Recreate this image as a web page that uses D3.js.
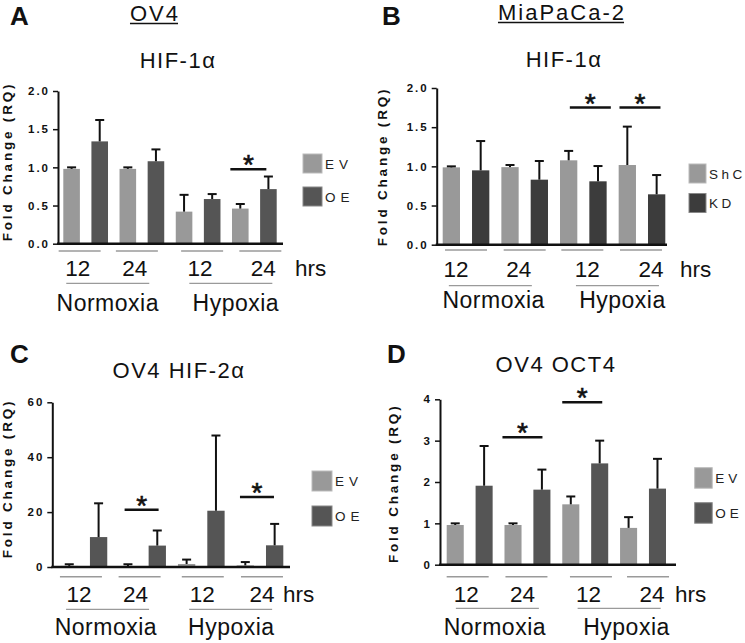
<!DOCTYPE html>

<head>
    <meta charset="utf-8">
    <script src="https://d3js.org/d3.v7.min.js"></script>
    <style>
        body {
            margin: 0;
            background: #fff;
        }

        svg {
            font-family: "Liberation Sans", Arial, sans-serif;
        }
    </style>
</head>

<body>
    <script>
        // shared categories
        const hours = ["12", "24", "12", "24"],
            conditions = ["Normoxia", "Hypoxia"];

        // A: OV4 HIF-1a
        const aEV = [0.98, 0.98, 0.42, 0.46],
            aEVErr = [0.02, 0.02, 0.22, 0.06],
            aOE = [1.34, 1.08, 0.585, 0.715],
            aOEErr = [0.28, 0.155, 0.065, 0.165],
            aSig = [{ group: 3, level: 0.975 }],
            aTicks = [0, 0.5, 1.0, 1.5, 2.0];

        // B: MiaPaCa-2 HIF-1a
        const bShC = [0.987, 0.99, 1.077, 1.017],
            bShCErr = [0.013, 0.027, 0.12, 0.49],
            bKD = [0.949, 0.83, 0.809, 0.643],
            bKDErr = [0.374, 0.238, 0.195, 0.246],
            bSig = [{ group: 2, level: 1.75 }, { group: 3, level: 1.75 }],
            bTicks = [0, 0.5, 1.0, 1.5, 2.0];

        // C: OV4 HIF-2a
        const cEV = [0.4, 0.35, 1.1, 0.6],
            cEVErr = [0.6, 0.65, 1.6, 1.2],
            cOE = [10.9, 7.8, 20.5, 7.9],
            cOEErr = [12.3, 5.5, 27.4, 7.8],
            cSig = [{ group: 1, level: 20.9 }, { group: 3, level: 25.5 }],
            cTicks = [0, 20, 40, 60];

        // D: OV4 OCT4
        const dEV = [0.96, 0.96, 1.46, 0.89],
            dEVErr = [0.04, 0.04, 0.19, 0.26],
            dOE = [1.91, 1.815, 2.45, 1.84],
            dOEErr = [0.96, 0.485, 0.55, 0.72],
            dSig = [{ group: 1, level: 3.08 }, { group: 2, level: 3.93 }],
            dTicks = [0, 1, 2, 3, 4];

        const svg = d3.select("body").append("svg")
            .attr("width", 745)
            .attr("height", 643);

        const panels = [
            {
                letter: "A", letterX: 10, letterY: 25,
                head: "OV4", headX: 155, headY: 21,
                title: "HIF-1α", titleX: 178, titleY: 68,
                ctrl: aEV, ctrlErr: aEVErr, trt: aOE, trtErr: aOEErr, sig: aSig, ticks: aTicks,
                names: ["EV", "OE"], trtColor: "#555", fmt: d3.format(".1f"),
                barRange: [63.3, 276.7], yRange: [243.7, 91], axisX: 58, axisEnd: 283,
                lineDx: [-6, -5, 4, 6], labelDx: [-8, -7, 2, 9],
                glY: 251, hrsY: 275.7, lowY: 283.3, condY: 310.7, hrsX: 295,
                condLineDx: [-6, 4.6], condTextDx: [-6, 9.6],
                sigDx: [-6], sigW: 36,
                legX: 303, legY: [154, 187], legW: 19, legH: 19, legSp: 5,
                ylabX: 11.5, ylabY: 161.5
            },
            {
                letter: "B", letterX: 382, letterY: 25,
                head: "MiaPaCa-2", headX: 562, headY: 20,
                title: "HIF-1α", titleX: 564, titleY: 66.7,
                ctrl: bShC, ctrlErr: bShCErr, trt: bKD, trtErr: bKDErr, sig: bSig, ticks: bTicks,
                names: ["ShC", "KD"], trtColor: "#3c3c3c", fmt: d3.format(".1f"),
                barRange: [442.7, 665.3], yRange: [244.7, 88], axisX: 436.7, axisEnd: 667,
                lineDx: [0, 0, -1, -1], labelDx: [-10, -6, 4, 9],
                glY: 250, hrsY: 276.7, lowY: 285.7, condY: 308.3, hrsX: 680,
                condLineDx: [-5, 4.8], condTextDx: [-1.7, 9.8],
                sigDx: [7, -2], sigW: 41,
                legX: 689, legY: [164, 193.5], legW: 17, legH: 19, legSp: 3.5,
                ylabX: 387, ylabY: 166.5
            },
            {
                letter: "C", letterX: 10, letterY: 363.3,
                head: null,
                title: "OV4 HIF-2α", titleX: 179, titleY: 378.3,
                ctrl: cEV, ctrlErr: cEVErr, trt: cOE, trtErr: cOEErr, sig: cSig, ticks: cTicks,
                names: ["EV", "OE"], trtColor: "#555", fmt: d3.format("d"),
                barRange: [60.6, 283.3], yRange: [567, 402.3], axisX: 52.3, axisEnd: 290,
                lineDx: [-3, -3, 1.5, 2], labelDx: [-5, -7, 1, 2],
                glY: 576.7, hrsY: 601.7, lowY: 609.3, condY: 635, hrsX: 283,
                condLineDx: [-5.7, 0], condTextDx: [-7.4, 0.7],
                sigDx: [-1, -3], sigW: 34,
                legX: 312, legY: [471, 506], legW: 20, legH: 20, legSp: 5,
                ylabX: 11.5, ylabY: 478.5
            },
            {
                letter: "D", letterX: 387, letterY: 363.3,
                head: null,
                title: "OV4 OCT4", titleX: 556, titleY: 371.7,
                ctrl: dEV, ctrlErr: dEVErr, trt: dOE, trtErr: dOEErr, sig: dSig, ticks: dTicks,
                names: ["EV", "OE"], trtColor: "#555", fmt: d3.format("d"),
                barRange: [446.7, 666], yRange: [564.7, 399.3], axisX: 440, axisEnd: 676,
                lineDx: [-2, -1, 5.7, 5], labelDx: [-3.3, -5, 3.2, 9],
                glY: 576.7, hrsY: 601.7, lowY: 608.3, condY: 635, hrsX: 675,
                condLineDx: [-1.2, 5], condTextDx: [-3.7, 12.4],
                sigDx: [-5, -3], sigW: 40,
                legX: 694.7, legY: [467.7, 502.7], legW: 17.5, legH: 20.5, legSp: 4,
                ylabX: 397.5, ylabY: 483.3
            }
        ];

        const ctrlColor = "#999";

        panels.forEach(drawPanel);

        function drawPanel(p) {
            const g = svg.append("g");

            const bars = [];
            p.ctrl.forEach((v, k) => {
                bars.push({ i: 2 * k, v: v, e: p.ctrlErr[k], fill: ctrlColor });
                bars.push({ i: 2 * k + 1, v: p.trt[k], e: p.trtErr[k], fill: p.trtColor });
            });

            const x = d3.scaleBand()
                .domain(d3.range(8))
                .range(p.barRange)
                .paddingInner(0.41)
                .paddingOuter(0),
                bw = x.bandwidth(),
                y = d3.scaleLinear()
                    .domain([0, d3.max(p.ticks)])
                    .range(p.yRange),
                y0 = y(0),
                groupCenter = k => (x(2 * k) + x(2 * k + 1) + bw) / 2;

            // panel letter, headings
            g.append("text")
                .attr("x", p.letterX)
                .attr("y", p.letterY)
                .attr("font-size", 26)
                .attr("font-weight", "bold")
                .attr("fill", "#111")
                .text(p.letter);

            if (p.head) {
                const h = g.append("text")
                    .attr("x", p.headX)
                    .attr("y", p.headY)
                    .attr("text-anchor", "middle")
                    .attr("font-size", 22)
                    .attr("letter-spacing", 2)
                    .attr("fill", "#111")
                    .text(p.head);
                const bb = h.node().getBBox();
                g.append("line")
                    .attr("x1", bb.x).attr("x2", bb.x + bb.width - 2)
                    .attr("y1", p.headY + 2.5).attr("y2", p.headY + 2.5)
                    .attr("stroke", "#111")
                    .attr("stroke-width", 1.5);
            }

            g.append("text")
                .attr("x", p.titleX)
                .attr("y", p.titleY)
                .attr("text-anchor", "middle")
                .attr("font-size", 22)
                .attr("letter-spacing", 1.5)
                .attr("fill", "#111")
                .text(p.title);

            // bars
            g.selectAll("rect.bar")
                .data(bars)
                .join("rect")
                .attr("class", "bar")
                .attr("x", d => x(d.i))
                .attr("y", d => y(d.v))
                .attr("width", bw)
                .attr("height", d => y0 - y(d.v))
                .attr("fill", d => d.fill);

            // error bars (upper only)
            const eb = g.selectAll("g.err")
                .data(bars)
                .join("g")
                .attr("class", "err")
                .attr("stroke", "#111")
                .attr("stroke-width", 2);
            eb.append("line")
                .attr("x1", d => x(d.i) + bw / 2)
                .attr("x2", d => x(d.i) + bw / 2)
                .attr("y1", d => y(d.v))
                .attr("y2", d => y(d.v + d.e));
            eb.append("line")
                .attr("x1", d => x(d.i) + bw / 2 - 4.5)
                .attr("x2", d => x(d.i) + bw / 2 + 4.5)
                .attr("y1", d => y(d.v + d.e))
                .attr("y2", d => y(d.v + d.e));

            // y axis
            const ya = g.append("g")
                .attr("transform", `translate(${p.axisX},0)`)
                .call(d3.axisLeft(y)
                    .tickValues(p.ticks)
                    .tickFormat(p.fmt)
                    .tickSize(5)
                    .tickSizeOuter(0)
                    .tickPadding(3));
            ya.select(".domain").attr("stroke", "#111").attr("stroke-width", 2);
            ya.selectAll(".tick line").attr("stroke", "#111").attr("stroke-width", 1.5);
            ya.selectAll(".tick text")
                .attr("font-family", "Liberation Sans, Arial, sans-serif")
                .attr("font-size", 11.5)
                .attr("font-weight", "bold")
                .attr("letter-spacing", 2)
                .attr("fill", "#111");

            // x axis baseline
            g.append("line")
                .attr("x1", p.axisX - 1).attr("x2", p.axisEnd)
                .attr("y1", y0).attr("y2", y0)
                .attr("stroke", "#111")
                .attr("stroke-width", 2.5);

            // y label
            g.append("text")
                .attr("transform", `translate(${p.ylabX},${p.ylabY}) rotate(-90)`)
                .attr("text-anchor", "middle")
                .attr("font-size", 13.5)
                .attr("font-weight", "bold")
                .attr("letter-spacing", 2.8)
                .attr("fill", "#111")
                .text("Fold Change (RQ)");

            // hour group lines and labels
            hours.forEach((h, k) => {
                const c = groupCenter(k) + p.lineDx[k];
                g.append("line")
                    .attr("x1", c - 21).attr("x2", c + 21)
                    .attr("y1", p.glY).attr("y2", p.glY)
                    .attr("stroke", "#9a9a9a")
                    .attr("stroke-width", 1.5);
                g.append("text")
                    .attr("x", groupCenter(k) + p.labelDx[k])
                    .attr("y", p.hrsY)
                    .attr("text-anchor", "middle")
                    .attr("font-size", 22.5)
                    .attr("fill", "#111")
                    .text(h);
            });

            g.append("text")
                .attr("x", p.hrsX)
                .attr("y", p.hrsY)
                .attr("font-size", 22.5)
                .attr("fill", "#111")
                .text("hrs");

            // condition lines and labels
            conditions.forEach((cName, j) => {
                const c = (groupCenter(2 * j) + groupCenter(2 * j + 1)) / 2;
                g.append("line")
                    .attr("x1", c + p.condLineDx[j] - 41.5).attr("x2", c + p.condLineDx[j] + 41.5)
                    .attr("y1", p.lowY).attr("y2", p.lowY)
                    .attr("stroke", "#9a9a9a")
                    .attr("stroke-width", 1.2);
                g.append("text")
                    .attr("x", c + p.condTextDx[j])
                    .attr("y", p.condY)
                    .attr("text-anchor", "middle")
                    .attr("font-size", 23)
                    .attr("letter-spacing", 0.5)
                    .attr("fill", "#111")
                    .text(cName);
            });

            // significance markers
            p.sig.forEach((s, j) => {
                const c = groupCenter(s.group) + p.sigDx[j],
                    ly = y(s.level);
                g.append("line")
                    .attr("x1", c - p.sigW / 2).attr("x2", c + p.sigW / 2)
                    .attr("y1", ly).attr("y2", ly)
                    .attr("stroke", "#111")
                    .attr("stroke-width", 2.5);
                g.append("text")
                    .attr("x", c)
                    .attr("y", ly + 5)
                    .attr("text-anchor", "middle")
                    .attr("font-size", 28)
                    .attr("fill", "#111")
                    .attr("stroke", "#111")
                    .attr("stroke-width", 0.6)
                    .text("*");
            });

            // legend
            p.names.forEach((n, j) => {
                g.append("rect")
                    .attr("x", p.legX)
                    .attr("y", p.legY[j])
                    .attr("width", p.legW)
                    .attr("height", p.legH)
                    .attr("fill", j === 0 ? ctrlColor : p.trtColor)
                    .attr("stroke", j === 0 ? "#bbb" : "#888")
                    .attr("stroke-width", 1);
                g.append("text")
                    .attr("x", p.legX + p.legW + 3)
                    .attr("y", p.legY[j] + p.legH / 2 + 5)
                    .attr("font-size", 13.5)
                    .attr("letter-spacing", p.legSp)
                    .attr("fill", "#222")
                    .text(n);
            });
        }
    </script>
</body>
